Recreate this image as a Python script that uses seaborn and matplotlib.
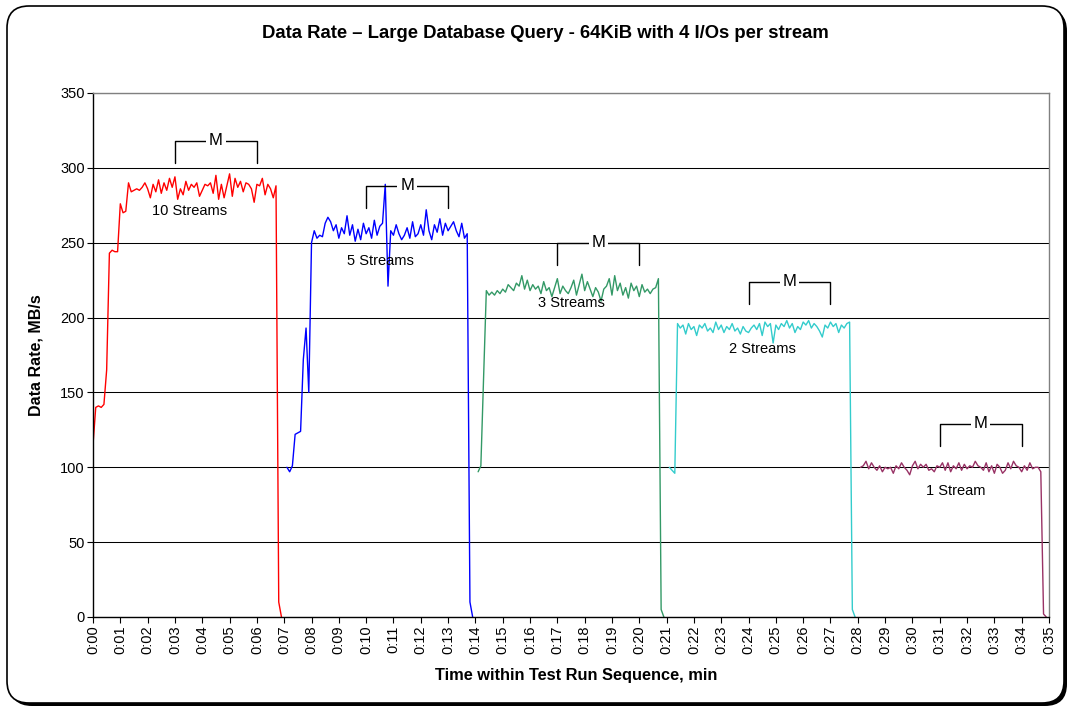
import numpy as np
import pandas as pd
import matplotlib
matplotlib.use('Agg')
import matplotlib.pyplot as plt
import matplotlib.transforms as mtransforms
from matplotlib.patches import FancyBboxPatch
import seaborn as sns

# Data: one sample every 0.1 min, each series starts at its own time
step = 0.1

red_start = 0.0
red = [115, 140, 141, 140, 142, 165, 243, 245, 244, 244,
       276, 270, 271, 290, 284, 285, 286, 285, 287, 290,
       286, 280, 289, 284, 292, 283, 290, 285, 293, 287,
       294, 279, 286, 282, 291, 285, 289, 287, 290, 281,
       285, 289, 288, 290, 283, 295, 279, 289, 280, 288,
       296, 281, 293, 287, 291, 284, 290, 289, 286, 277,
       289, 288, 293, 282, 289, 286, 280, 288, 10, 0]

blue_start = 7.1
blue = [100, 97, 101, 122, 123, 124, 172, 193, 150,
        250, 258, 253, 255, 254, 263, 267, 264, 258, 262,
        253, 260, 256, 268, 255, 262, 251, 259, 252, 263,
        256, 260, 253, 265, 255, 261, 263, 289, 221, 258,
        255, 262, 256, 252, 255, 260, 253, 264, 254, 256,
        262, 255, 272, 258, 252, 262, 257, 266, 255, 263,
        258, 261, 264, 258, 254, 263, 253, 256, 10, 0]

green_start = 14.1
green = [97, 101, 160, 218, 215, 217, 215, 218, 216,
         219, 217, 222, 220, 218, 223, 221, 228, 219, 225,
         218, 222, 219, 221, 216, 224, 218, 220, 214, 220,
         226, 216, 221, 218, 216, 220, 225, 215, 222, 229,
         218, 224, 219, 214, 220, 217, 211, 219, 221, 226,
         215, 228, 218, 223, 215, 220, 213, 223, 218, 221,
         214, 222, 217, 219, 216, 219, 220, 226, 5, 0]

cyan_start = 21.1
cyan = [100, 98, 96, 196, 193, 195, 189, 196, 192,
        194, 188, 195, 193, 196, 191, 193, 190, 197, 192,
        195, 190, 194, 192, 196, 191, 193, 189, 194, 191,
        190, 193, 195, 192, 196, 188, 197, 194, 196, 183,
        195, 192, 196, 194, 198, 193, 196, 190, 194, 192,
        197, 195, 198, 193, 196, 194, 191, 187, 195, 193,
        197, 194, 196, 190, 195, 193, 196, 197, 5, 0]

maroon_start = 28.1
maroon = [100, 101, 104, 99, 103, 100, 98, 101, 97,
          100, 99, 100, 96, 101, 99, 103, 100, 98, 95,
          101, 104, 99, 102, 100, 102, 98, 99, 97, 101,
          100, 103, 98, 103, 97, 101, 99, 103, 98, 102,
          99, 101, 100, 104, 101, 100, 98, 103, 97, 101,
          96, 102, 100, 96, 98, 103, 99, 104, 101, 100,
          97, 101, 98, 103, 99, 100, 100, 97, 2, 0]

series_names = ['10 Streams', '5 Streams', '3 Streams', '2 Streams', '1 Stream']
series_starts = [red_start, blue_start, green_start, cyan_start, maroon_start]
series_values = [red, blue, green, cyan, maroon]
colors = ['#FF0000', '#0000FF', '#339966', '#33CCCC', '#993366']

# label positions (minute, MB/s) and "M" measurement windows
label_x = [3.55, 10.52, 17.5, 24.5, 31.59]
label_y = [271, 238, 210, 179, 84]
m_start = [3, 10, 17, 24, 31]
m_end = [6, 13, 20, 27, 34]
m_top = [318, 288, 250, 224, 129]

tick_labels = ['0:%02d' % m for m in range(36)]

frames = []
for name, start, vals in zip(series_names, series_starts, series_values):
    t = np.round(start + step * np.arange(len(vals)), 2)
    frames.append(pd.DataFrame({'minute': t, 'rate': vals, 'series': name}))
df = pd.concat(frames, ignore_index=True)

sns.set_style('white')
plt.rcParams['font.family'] = ['Liberation Sans', 'DejaVu Sans']
plt.rcParams['text.color'] = 'black'
plt.rcParams['axes.labelcolor'] = 'black'
plt.rcParams['xtick.color'] = 'black'
plt.rcParams['ytick.color'] = 'black'

fig = plt.figure(figsize=(10.71, 7.09), dpi=100)

# rounded chart-area border with a drop shadow, kept behind the axes
shadow = FancyBboxPatch((10, 3), 1057, 697, boxstyle='round,pad=0,rounding_size=22',
                        transform=mtransforms.IdentityTransform(),
                        facecolor='black', edgecolor='black', linewidth=0, zorder=-3)
frame = FancyBboxPatch((7, 6), 1057, 697, boxstyle='round,pad=0,rounding_size=22',
                       transform=mtransforms.IdentityTransform(),
                       facecolor='white', edgecolor='black', linewidth=1.2, zorder=-2)
fig.patches.extend([shadow, frame])

ax = fig.add_axes([93 / 1071, 1 - 617 / 709, 956 / 1071, 524 / 709])
ax.set_facecolor('none')

sns.lineplot(data=df, x='minute', y='rate', hue='series', palette=colors,
             hue_order=series_names, estimator=None, sort=False, legend=False,
             linewidth=1.0, ax=ax)

ax.set_xlim(0, 35)
ax.set_ylim(0, 350)
ax.set_xticks(range(36))
ax.set_xticklabels(tick_labels, rotation=90, fontsize=10.5)
ax.set_yticks(range(0, 351, 50))
ax.tick_params(axis='y', labelsize=10.5)
ax.tick_params(axis='both', direction='out', length=4, width=0.8, color='black',
               left=True, bottom=True, pad=2)
ax.yaxis.grid(True, color='black', linewidth=0.75)
ax.xaxis.grid(False)
ax.set_axisbelow(True)
for side in ['left', 'bottom']:
    ax.spines[side].set_color('black')
    ax.spines[side].set_linewidth(1.0)
for side in ['top', 'right']:
    ax.spines[side].set_color('#808080')
    ax.spines[side].set_linewidth(1.0)

ax.set_xlabel('Time within Test Run Sequence, min', fontsize=11.8, fontweight='bold')
ax.set_ylabel('Data Rate, MB/s', fontsize=11.5, fontweight='bold')
ax.xaxis.set_label_coords(0.505, -0.097)
ax.yaxis.set_label_coords(-0.052, 0.5)

fig.text(545 / 1071, 1 - 33 / 709,
         'Data Rate \u2013 Large Database Query - 64KiB with 4 I/Os per stream',
         ha='center', va='center', fontsize=13.3, fontweight='bold')

for i in range(len(series_names)):
    ax.text(label_x[i], label_y[i], series_names[i], ha='center', va='center', fontsize=10.5)
    x0, x1, top = m_start[i], m_end[i], m_top[i]
    ax.plot([x0, x0, x1, x1], [top - 15, top, top, top - 15], color='black', linewidth=1.0)
    ax.text((x0 + x1) / 2, top, 'M', ha='center', va='center', fontsize=12,
            bbox=dict(facecolor='white', edgecolor='none', pad=2))

fig.savefig('out.png', dpi=100)
